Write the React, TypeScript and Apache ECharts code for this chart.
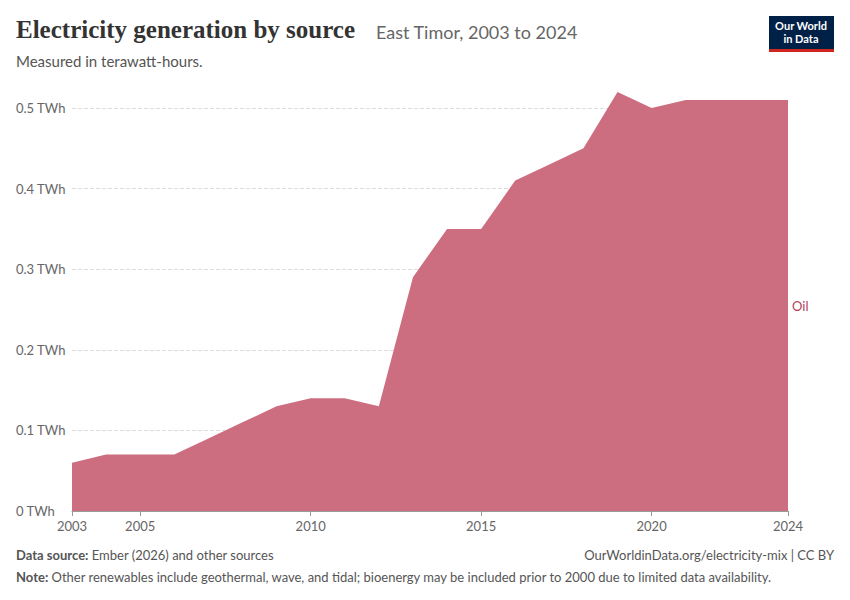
import React, { useEffect, useRef } from "react";
import * as echarts from "echarts";

const years = [2003,2004,2005,2006,2007,2008,2009,2010,2011,2012,2013,2014,2015,2016,2017,2018,2019,2020,2021,2022,2023,2024];
const oil = [0.06,0.07,0.07,0.07,0.09,0.11,0.13,0.14,0.14,0.13,0.29,0.35,0.35,0.41,0.43,0.45,0.52,0.50,0.51,0.51,0.51,0.51];
const xTicks = [2003, 2005, 2010, 2015, 2020, 2024];

export default function App() {
  const ref = useRef<HTMLDivElement>(null);
  useEffect(() => {
    const chart = echarts.init(ref.current!, null, { renderer: "svg" });
    const font = "Lato, 'Noto Sans', sans-serif";
    chart.setOption({
      animation: false,
      grid: { left: 72, right: 62, top: 108, bottom: 89 },
      xAxis: {
        type: "value", min: 2003, max: 2024,
        axisLine: { show: true, lineStyle: { color: "#999" } },
        axisTick: { show: true, customValues: xTicks, lineStyle: { color: "#999" } },
        axisLabel: { customValues: xTicks, color: "#666", fontSize: 13, fontFamily: font, formatter: (v: number) => String(v) },
        splitLine: { show: false },
      },
      yAxis: {
        type: "value", min: 0, max: 0.5, interval: 0.1,
        axisLine: { show: false }, axisTick: { show: false },
        axisLabel: { color: "#666", fontSize: 13, fontFamily: font, formatter: (v: number) => (v === 0 ? "0" : String(+v.toFixed(1))) + " TWh", margin: 56, align: "left" },
        splitLine: { lineStyle: { color: "#ddd", type: "dashed" } },
      },
      series: [{
        type: "line", name: "Oil", clip: false, symbol: "none",
        data: years.map((y, i) => [y, oil[i]]),
        lineStyle: { width: 0 },
        areaStyle: { color: "#cc6e80", opacity: 1 },
      }],
      graphic: [
        { type: "text", left: 16, top: 17, style: { text: "Electricity generation by source", font: "bold 25px 'Liberation Serif', serif", fill: "#333" } },
        { type: "text", left: 376, top: 23, style: { text: "East Timor, 2003 to 2024", font: "18px " + font, fill: "#666" } },
        { type: "text", left: 16, top: 53, style: { text: "Measured in terawatt-hours.", font: "15px " + font, fill: "#555" } },
        { type: "rect", shape: { x: 769, y: 16, width: 65, height: 36 }, style: { fill: "#002147" } },
        { type: "rect", shape: { x: 769, y: 49, width: 65, height: 3 }, style: { fill: "#ce261e" } },
        { type: "text", x: 801, y: 19, style: { text: "Our World\nin Data", font: "bold 11px " + font, fill: "#fff", align: "center", lineHeight: 13 } },
        { type: "text", left: 792, top: 299, style: { text: "Oil", font: "13px " + font, fill: "#b5405a" } },
        { type: "text", left: 16, top: 548, style: { rich: { b: { fontWeight: "bold", fontSize: 13, fontFamily: font, fill: "#555" }, n: { fontSize: 13, fontFamily: font, fill: "#555" } }, text: "{b|Data source:} {n|Ember (2026) and other sources}" } },
        { type: "text", right: 16, top: 548, style: { text: "OurWorldinData.org/electricity-mix | CC BY", font: "13px " + font, fill: "#555" } },
        { type: "text", left: 16, top: 570, style: { rich: { b: { fontWeight: "bold", fontSize: 13, fontFamily: font, fill: "#555" }, n: { fontSize: 13, fontFamily: font, fill: "#555" } }, text: "{b|Note:} {n|Other renewables include geothermal, wave, and tidal; bioenergy may be included prior to 2000 due to limited data availability.}" } },
      ],
    });
    return () => chart.dispose();
  }, []);
  return <div ref={ref} style={{ width: 850, height: 600, margin: -8 }} />;
}
